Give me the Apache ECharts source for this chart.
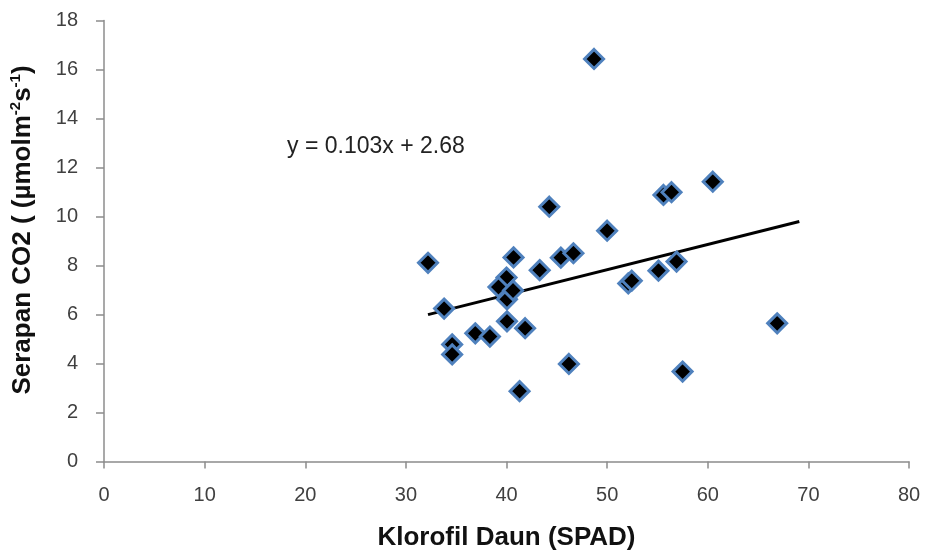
<!DOCTYPE html>
<html>
<head>
<meta charset="utf-8">
<script src="https://cdn.jsdelivr.net/npm/echarts@6/dist/echarts.min.js"></script>
<style>
    html, body {margin: 0; padding: 0; background: #fff;}
    #main {width: 927px; height: 551px;}
</style>
</head>
<body>
<div id="main"></div>
<script>
// klorofil daun (SPAD) dan serapan CO2
var klorofil = [48.7, 32.2, 33.8, 34.6, 34.6, 36.9, 38.35, 40.05, 41.85, 41.3,
    40.7, 40.0, 39.2, 40.05, 40.65, 43.3, 44.25, 45.4, 46.65, 46.2,
    50.0, 52.1, 52.45, 55.1, 56.9, 55.6, 56.4, 60.5, 57.5, 66.9];
var serapan = [16.43, 8.11, 6.24, 4.78, 4.37, 5.23, 5.1, 5.72, 5.44, 2.87,
    8.33, 7.51, 7.12, 6.62, 6.98, 7.81, 10.4, 8.32, 8.5, 3.98,
    9.42, 7.27, 7.38, 7.79, 8.16, 10.88, 10.99, 11.42, 3.67, 5.64];

// garis trend linear y = 0.103x + 2.68
var trendX = [32.2, 69.1];
var slope = 0.103;
var intercept = 2.68;

var xTicks = [0, 10, 20, 30, 40, 50, 60, 70, 80];
var yTicks = [0, 2, 4, 6, 8, 10, 12, 14, 16, 18];

var titikData = klorofil.map(function (x, i) {
    return [x, serapan[i]];
});
var trendData = trendX.map(function (x) {
    return [x, slope * x + intercept];
});

var axisGray = '#8c8c8c';
var labelFont = {color: '#404040', fontSize: 20, fontFamily: 'Liberation Sans, sans-serif'};
var titleFont = 'Liberation Sans, Arial, sans-serif';

var chart = echarts.init(document.getElementById('main'));
var option = {
    animation: false,
    backgroundColor: '#fff',
    grid: {left: 104, right: 18, top: 20.5, bottom: 89.5, outerBoundsMode: 'none', containLabel: false},
    xAxis: {
        type: 'value',
        min: xTicks[0],
        max: xTicks[xTicks.length - 1],
        interval: 10,
        name: 'Klorofil Daun (SPAD)',
        nameLocation: 'middle',
        nameGap: 63,
        nameTextStyle: {fontSize: 26, fontWeight: 'bold', color: '#111', fontFamily: titleFont},
        axisLine: {onZero: false, lineStyle: {color: axisGray, width: 1.5}},
        axisTick: {show: true, length: 7, lineStyle: {color: axisGray, width: 1.5}},
        axisLabel: Object.assign({margin: 24}, labelFont),
        splitLine: {show: false}
    },
    yAxis: {
        type: 'value',
        min: yTicks[0],
        max: yTicks[yTicks.length - 1],
        interval: 2,
        name: '{a|Serapan CO2 ( (µmolm}{s|-2}{a|s}{s|-1}{a|)}',
        nameLocation: 'middle',
        nameGap: 66,
        nameTextStyle: {
            padding: [0, 0, 0, 22],
            rich: {
                a: {fontSize: 26, fontWeight: 'bold', color: '#111', fontFamily: titleFont, lineHeight: 30},
                s: {fontSize: 15, fontWeight: 'bold', color: '#111', fontFamily: titleFont, verticalAlign: 'top', lineHeight: 30, padding: [0, 0, 12, 0]}
            }
        },
        axisLine: {show: true, onZero: false, lineStyle: {color: axisGray, width: 1.5}},
        axisTick: {show: true, length: 8, lineStyle: {color: axisGray, width: 1.5}},
        axisLabel: Object.assign({margin: 26}, labelFont),
        splitLine: {show: false}
    },
    graphic: [{
        type: 'text',
        left: 287,
        top: 135,
        style: {
            text: 'y = 0.103x + 2.68',
            fill: '#222',
            fontSize: 23,
            fontFamily: titleFont
        }
    }],
    series: [
        {
            type: 'line',
            data: trendData,
            symbol: 'none',
            lineStyle: {color: '#000', width: 3},
            z: 3
        },
        {
            type: 'scatter',
            data: titikData,
            symbol: 'diamond',
            symbolSize: 19,
            itemStyle: {color: '#000', opacity: 1, borderColor: '#4f81bd', borderWidth: 3},
            z: 4
        }
    ]
};
chart.setOption(option);
</script>
</body>
</html>
